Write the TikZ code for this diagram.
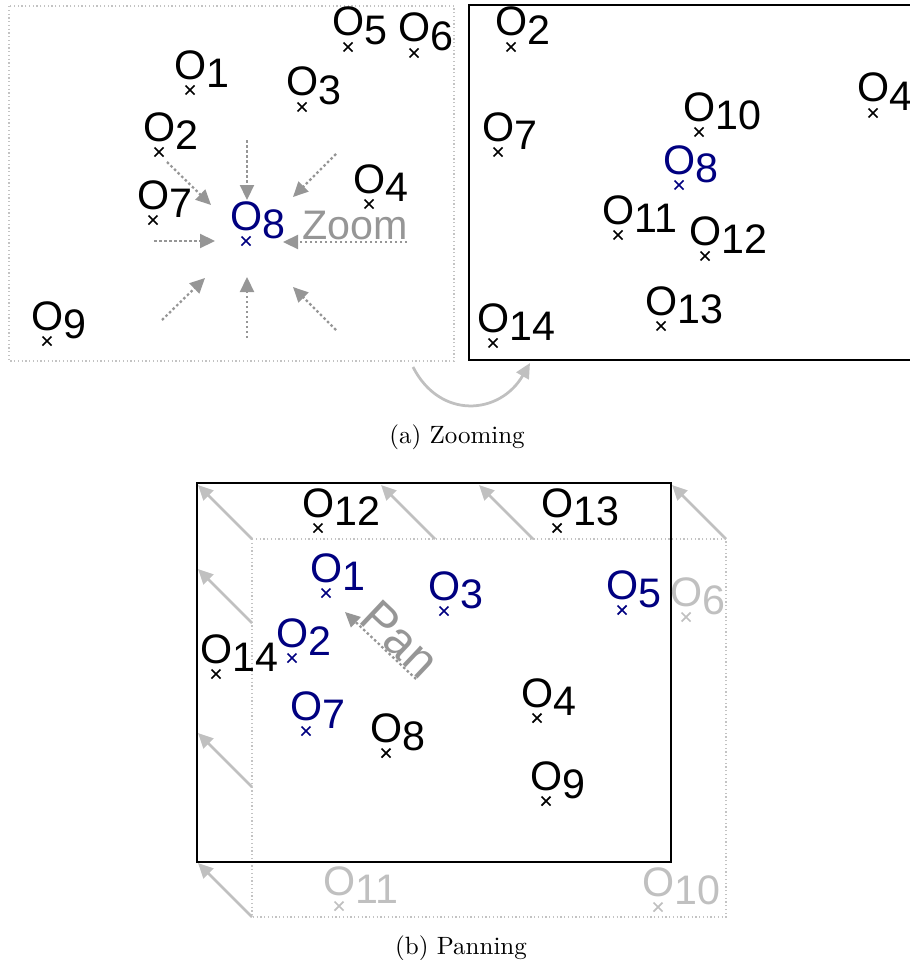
\documentclass[tikz,border=0pt]{standalone}
\usepackage{fontspec}
\newfontfamily\labfont{Liberation Sans}
\usetikzlibrary{arrows.meta}
\definecolor{objblue}{RGB}{0,0,128}
\definecolor{arrowgray}{RGB}{150,150,150}
\definecolor{palegray}{RGB}{192,192,192}
\definecolor{framegray}{RGB}{195,195,195}
\tikzset{
  objcross/.style={line width=0.7pt},
  objlabel/.style={anchor=base west, inner sep=0pt, xshift=-6.4pt, yshift=4.4pt,
    font=\labfont\fontsize{16.5}{20}\selectfont},
  viewframe/.style={draw=black, line width=0.8pt},
  oldframe/.style={draw=framegray, line width=0.5pt, dash pattern=on 0.5pt off 1pt},
  zoomarrow/.style={draw=arrowgray, line width=0.9pt, dash pattern=on 1pt off 1pt},
  panarrow/.style={draw=palegray, line width=1.1pt},
  hint/.style={text=arrowgray, font=\labfont\fontsize{16.5}{20}\selectfont, inner sep=0.5pt}
}
\begin{document}
\begin{tikzpicture}[x=0.4pt, y=-0.4pt, line cap=butt, >={Triangle[length=6pt,width=5.6pt]}]
	\useasboundingbox (0,0) rectangle (910,960);
	% (a) zooming
	\draw[oldframe] (9,6) rectangle (454,361);
	\draw[viewframe] (469,5) rectangle (930,360);
	\foreach \n/\x/\y/\c in {1/190/90/black, 2/159/152/black, 3/302/107/black,
		4/369/204/black, 5/348/47/black, 6/414/53/black, 7/153/220/black,
		8/246/241/objblue, 9/47/341/black}
	{
		\path (\x,\y) coordinate (zl\n);
		\draw[objcross, \c] (zl\n) ++(-4.5,-4.5) -- ++(9,9) ++(-9,0) -- ++(9,-9);
		\node[objlabel, text=\c] (lzl\n) at (zl\n) {O\raisebox{-0.2em}{\n}};
	}
	\foreach \n/\x/\y/\c in {2/511/47/black, 4/873/113/black, 10/699/132/black,
		7/498/152/black, 8/679/185/objblue, 11/618/235/black, 12/705/256/black,
		13/661/326/black, 14/493/343/black}
	{
		\path (\x,\y) coordinate (zr\n);
		\draw[objcross, \c] (zr\n) ++(-4.5,-4.5) -- ++(9,9) ++(-9,0) -- ++(9,-9);
		\node[objlabel, text=\c] (lzr\n) at (zr\n) {O\raisebox{-0.2em}{\n}};
	}
	\foreach \i/\a/\b/\c/\d in {1/167/162/211/205, 2/247/140/247/200, 3/336/154/293/197,
		4/154/241/215/241, 6/162/320/205/278, 7/247/338/247/277, 8/336/330/293/287}
	{
		\path (\a,\b) coordinate (zs\i) (\c,\d) coordinate (ze\i);
		\draw[zoomarrow, ->] (zs\i) -- (ze\i);
	}
	\path (407,242) coordinate (zs5) (283,242) coordinate (ze5);
	\draw[zoomarrow, ->] (zs5) -- node[pos=0.42, above, hint] (zoomtext) {Zoom} (ze5);
	\path (413,367) coordinate (ca) (530,363) coordinate (cb);
	\draw[panarrow, ->] (ca) .. controls (440,420) and (500,415) .. (cb);
	\node[anchor=base] (capa) at (457,443) {(a) Zooming};
	% (b) panning
	\draw[oldframe] (252,539) rectangle (726,917);
	\draw[viewframe] (197,483) rectangle (671,862);
	\foreach \i/\x/\y in {1/252/539, 2/435/539, 3/533/539, 4/726/539,
		5/252/623, 6/252/787, 7/252/917}
	{
		\path (\x,\y) coordinate (ps\i) ++(-54,-54) coordinate (pe\i);
		\draw[panarrow, ->] (ps\i) -- (pe\i);
	}
	\foreach \n/\x/\y/\c in {12/318/528/black, 13/557/528/black, 1/326/593/objblue,
		3/444/611/objblue, 5/622/610/objblue, 6/686/617/palegray, 2/292/658/objblue,
		14/216/674/black, 4/537/718/black, 7/306/731/objblue, 8/386/753/black,
		9/546/801/black, 11/339/906/palegray, 10/658/907/palegray}
	{
		\path (\x,\y) coordinate (pn\n);
		\draw[objcross, \c] (pn\n) ++(-4.5,-4.5) -- ++(9,9) ++(-9,0) -- ++(9,-9);
		\node[objlabel, text=\c] (lpn\n) at (pn\n) {O\raisebox{-0.2em}{\n}};
	}
	\path (416,679) coordinate (pana) (345,612) coordinate (panb);
	\draw[zoomarrow, ->] (pana) -- node[pos=0.4, sloped, above, hint, inner sep=0pt,
		font=\labfont\fontsize{19.5}{23}\selectfont] (pantext) {Pan} (panb);
	\node[anchor=base] (capb) at (461,954) {(b) Panning};
\end{tikzpicture}
\end{document}
